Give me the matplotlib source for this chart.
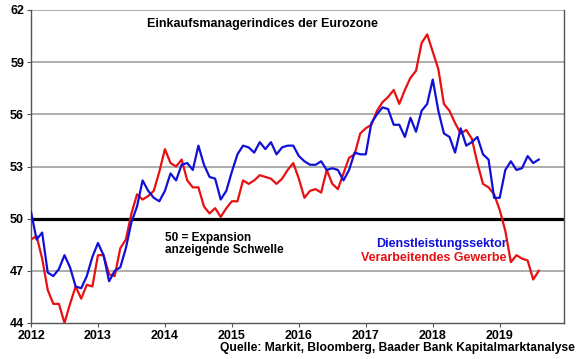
import numpy as np
import matplotlib
matplotlib.use("Agg")
import matplotlib.pyplot as plt

plt.rcParams['font.family'] = ['Liberation Sans', 'DejaVu Sans']

# monthly values Jan 2012 .. Aug 2019
services = [50.4, 48.8, 49.2, 46.9, 46.7, 47.1, 47.9, 47.2, 46.1, 46.0, 46.7, 47.8,
            48.6, 47.9, 46.4, 47.0, 47.2, 48.3, 49.8, 50.7, 52.2, 51.6, 51.2, 51.0,
            51.6, 52.6, 52.2, 53.1, 53.2, 52.8, 54.2, 53.1, 52.4, 52.3, 51.1, 51.6,
            52.7, 53.7, 54.2, 54.1, 53.8, 54.4, 54.0, 54.4, 53.7, 54.1, 54.2, 54.2,
            53.6, 53.3, 53.1, 53.1, 53.3, 52.8, 52.9, 52.8, 52.2, 52.8, 53.8, 53.7,
            53.7, 55.5, 56.0, 56.4, 56.3, 55.4, 55.4, 54.7, 55.8, 55.0, 56.2, 56.6,
            58.0, 56.2, 54.9, 54.7, 53.8, 55.2, 54.2, 54.4, 54.7, 53.7, 53.4, 51.2,
            51.2, 52.8, 53.3, 52.8, 52.9, 53.6, 53.2, 53.4]
manufacturing = [48.8, 49.0, 47.7, 45.9, 45.1, 45.1, 44.0, 45.1, 46.1, 45.4, 46.2, 46.1,
                 47.9, 47.9, 46.8, 46.7, 48.3, 48.8, 50.3, 51.4, 51.1, 51.3, 51.6, 52.7,
                 54.0, 53.2, 53.0, 53.4, 52.2, 51.8, 51.8, 50.7, 50.3, 50.6, 50.1, 50.6,
                 51.0, 51.0, 52.2, 52.0, 52.2, 52.5, 52.4, 52.3, 52.0, 52.3, 52.8, 53.2,
                 52.3, 51.2, 51.6, 51.7, 51.5, 52.8, 52.0, 51.7, 52.6, 53.5, 53.7, 54.9,
                 55.2, 55.4, 56.2, 56.7, 57.0, 57.4, 56.6, 57.4, 58.1, 58.5, 60.1, 60.6,
                 59.6, 58.6, 56.6, 56.2, 55.5, 54.9, 55.1, 54.6, 53.2, 52.0, 51.8, 51.4,
                 50.5, 49.3, 47.5, 47.9, 47.7, 47.6, 46.5, 47.0]
years = list(range(2012, 2020))
yticks = [44, 47, 50, 53, 56, 59, 62]

x = 2012 + np.arange(len(services)) / 12.0

fig = plt.figure(figsize=(5.8, 3.59), dpi=100)
ax = fig.add_axes([31 / 580, 1 - 323 / 359, 533 / 580, 313 / 359])

for y in yticks[1:]:
    if y == 50:
        continue
    ax.axhline(y, color='#a0a0a0', lw=1.2, zorder=1)
ax.axhline(50, color='black', lw=2.3, zorder=2)

ax.plot(x, manufacturing, color='#e81010', lw=1.6, zorder=3)
ax.plot(x, services, color='#1010d8', lw=1.6, zorder=4)

ax.set_xlim(2012, 2019.96)
ax.set_ylim(44, 62)
ax.set_xticks(years)
ax.set_xticklabels([str(y) for y in years], fontsize=9, fontweight='bold')
ax.set_yticks(yticks)
ax.set_yticklabels([str(y) for y in yticks], fontsize=9, fontweight='bold')
ax.tick_params(axis='both', length=3, width=0.8, color='#555555', pad=2)

ax.spines['top'].set_visible(False)
for s in ['left', 'bottom', 'right']:
    ax.spines[s].set_color('#555555')
    ax.spines[s].set_linewidth(1.0)

ax.text(0.435, 0.955, 'Einkaufsmanagerindices der Eurozone', transform=ax.transAxes,
        ha='center', va='center', fontsize=9, fontweight='bold')
ax.text(2014.0, 49.25, '50 = Expansion\nanzeigende Schwelle', ha='left', va='top',
        fontsize=8.5, fontweight='bold', linespacing=1.0)
ax.text(2019.1, 48.55, 'Dienstleistungssektor', ha='right', va='center',
        fontsize=9, fontweight='bold', color='#1010d8')
ax.text(2019.1, 47.75, 'Verarbeitendes Gewerbe', ha='right', va='center',
        fontsize=9, fontweight='bold', color='#e81010')

fig.text(575 / 580, 1 - 348 / 359, 'Quelle: Markit, Bloomberg, Baader Bank Kapitalmarktanalyse',
         ha='right', va='center', fontsize=8.7, fontweight='bold')

fig.savefig('out.png', dpi=100)
